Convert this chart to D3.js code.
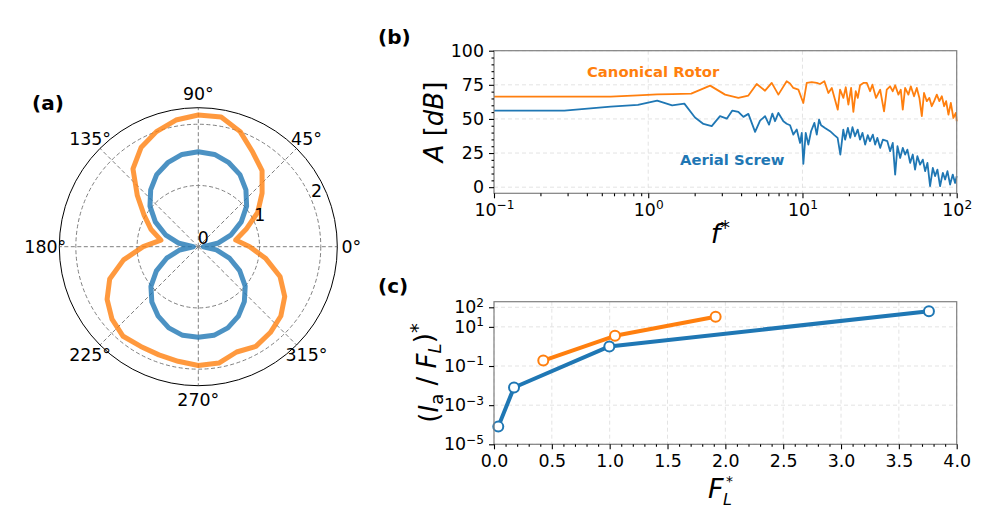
<!DOCTYPE html>
<html>
<head>
<meta charset="utf-8">
<script src="https://cdn.jsdelivr.net/npm/d3@7/dist/d3.min.js"></script>
<style>
  body { margin: 0; background: #fff; }
  text { font-family: "DejaVu Sans", sans-serif; }
</style>
</head>
<body>
<script>
// ---- data ----
// (a) directivity, one value every 10 degrees starting at 0
const patternAngles = [0, 10, 20, 30, 40, 50, 60, 70, 80, 90, 100, 110, 120, 130, 140, 150, 160, 170,
  180, 190, 200, 210, 220, 230, 240, 250, 260, 270, 280, 290, 300, 310, 320, 330, 340, 350];
const screwPattern = [0.08, 0.32, 0.57, 0.81, 1.03, 1.21, 1.36, 1.46, 1.53, 1.55, 1.53, 1.46, 1.36, 1.21, 1.03, 0.81, 0.57, 0.32,
  0.08, 0.31, 0.55, 0.79, 1.01, 1.18, 1.31, 1.41, 1.47, 1.48, 1.47, 1.41, 1.31, 1.17, 1.00, 0.78, 0.54, 0.30];
const rotorPattern = [0.84, 0.62, 0.83, 1.12, 1.36, 1.62, 1.78, 2.00, 2.15, 2.15, 2.10, 2.00, 1.87, 1.66, 1.30, 1.02, 0.82, 0.62,
  0.90, 1.24, 1.54, 1.72, 1.84, 1.91, 1.88, 1.88, 1.90, 1.94, 1.93, 1.83, 1.88, 1.83, 1.76, 1.63, 1.42, 1.12];
const angleTicks = [0, 45, 90, 135, 180, 225, 270, 315];
const radialTicks = [0, 1, 2];

// (b) spectra, [f*, A in dB]
const rotorSpectrum = [[0, 66.3], [0.286, 66.3], [0.571, 66.4], [0.857, 67.2], [1.143, 68.0], [1.43, 68.2], [1.9, 68.5],
  [2.52, 74.4], [3.15, 67.8], [3.84, 65.4], [4.46, 67.1], [5.05, 75.6], [5.72, 70.7], [6.32, 76.4], [6.98, 67.8],
  [7.9, 77.6], [8.3, 76.0], [8.73, 72.7], [9.41, 71.5], [10.13, 61.7], [10.66, 76.4], [11.49, 76.9], [12.38, 76.4],
  [13.0, 75.6], [13.87, 77.6], [14.72, 69.0], [15.49, 72.7], [16.94, 56.8], [17.53, 71.5], [18.42, 65.4], [19.09, 73.2],
  [19.85, 60.5], [20.67, 72.7], [21.38, 55.1], [22.16, 70.3], [22.84, 65.4], [23.63, 74.7], [24.83, 76.4], [26.12, 76.4],
  [27.44, 70.3], [28.4, 75.1], [30.0, 65.4], [31.9, 71.4], [33.8, 55.6], [35.2, 71.4], [37.0, 73.9], [38.5, 70.3],
  [39.9, 74.7], [41.9, 67.8], [43.4, 71.4], [44.7, 56.8], [46.3, 72.7], [48.6, 67.8], [50.4, 73.9], [52.9, 66.6],
  [55.1, 72.7], [57.3, 65.4], [59.4, 52.0], [61.4, 69.0], [64.0, 63.0], [66.5, 65.4], [68.9, 59.3], [71.4, 63.0],
  [74.3, 67.8], [77.2, 63.0], [80.1, 66.6], [82.9, 59.3], [85.4, 63.0], [88.4, 53.1], [91.6, 61.7], [95.2, 50.7],
  [98.7, 54.4], [100, 48.3]];
const screwSpectrum = [[0, 56.1], [0.286, 56.1], [0.571, 59.0], [0.857, 60.3], [1.143, 63.4], [1.429, 60.0], [1.714, 61.2],
  [2.01, 51.0], [2.28, 46.3], [2.58, 44.7], [2.92, 52.0], [3.23, 50.2], [3.51, 56.1], [3.84, 55.1], [4.14, 51.5],
  [4.46, 53.7], [4.93, 40.5], [5.31, 48.8], [5.72, 52.0], [6.07, 45.8], [6.38, 53.9], [6.64, 48.3], [6.98, 54.4],
  [7.52, 48.3], [7.9, 46.5], [8.31, 45.4], [8.73, 38.5], [9.18, 42.2], [9.65, 32.4], [9.9, 39.8], [10.13, 17.1],
  [10.5, 39.8], [10.92, 31.2], [11.37, 41.0], [11.95, 47.1], [12.38, 38.5], [12.81, 49.5], [13.2, 45.4], [14.0, 43.4],
  [15.1, 41.0], [16.1, 38.1], [16.9, 36.1], [17.6, 23.9], [18.4, 42.2], [18.9, 34.8], [19.7, 43.4], [20.4, 36.1],
  [21.1, 43.9], [21.9, 37.3], [22.8, 42.2], [23.6, 34.8], [24.5, 39.8], [25.5, 31.2], [26.5, 38.1], [27.4, 33.7],
  [28.6, 38.5], [29.6, 31.2], [30.6, 36.1], [31.9, 28.8], [33.2, 34.8], [35.5, 33.7], [37.0, 26.4], [38.5, 32.4],
  [39.9, 9.2], [41.3, 30.0], [43.0, 21.4], [44.7, 28.8], [46.3, 23.9], [47.9, 27.5], [49.9, 17.8], [51.9, 23.9],
  [53.7, 12.9], [55.6, 22.7], [57.9, 16.5], [60.3, 20.2], [62.4, 11.7], [64.6, 17.8], [67.2, 0.7], [70.0, 14.1],
  [72.4, 8.1], [75.0, 12.9], [78.0, 0.7], [81.3, 10.5], [84.1, 5.6], [87.1, 11.7], [90.6, 1.9], [94.3, 9.2],
  [97.6, 3.1], [100, 8.1]];
const ampTicks = [0, 25, 50, 75, 100];
const freqTicks = [0.1, 1, 10, 100];

// (c) impulse ratio vs lift
const screwLift = [0.037, 0.173, 0.997, 3.76];
const screwRatio = [8e-5, 8e-3, 1.0, 63];
const rotorLift = [0.426, 1.046, 1.916];
const rotorRatio = [0.19, 3.5, 33];
const liftTicks = [0, 0.5, 1, 1.5, 2, 2.5, 3, 3.5, 4];
const ratioExps = [-5, -3, -1, 1, 2];

const blue = "#1f77b4", orange = "#ff7f0e";
const fs = 17.4;

const svg = d3.select("body").append("svg").attr("width", 997).attr("height", 532);

// helper for 10^n labels
const pow10 = (sel, n) => {
  sel.text(null);
  sel.append("tspan").text("10");
  sel.append("tspan").attr("dy", "-0.55em").attr("font-size", "0.7em").text(String(n).replace("-", "\u2212"));
};

// ================= (a) polar =================
const cx = 198.3, cy = 246.7, R = 139;
const rScale = d3.scaleLinear().domain([0, 2.27]).range([0, R]);
const pa = svg.append("g").attr("transform", `translate(${cx},${cy})`);
const rad = d => d * Math.PI / 180;

pa.selectAll(".rgrid").data(radialTicks.filter(d => d > 0)).enter().append("circle")
  .attr("r", d => rScale(d)).attr("fill", "none")
  .attr("stroke", "#7f7f7f").attr("stroke-width", 1).attr("stroke-dasharray", "4,2.5");
pa.selectAll(".agrid").data(angleTicks).enter().append("line")
  .attr("x1", 0).attr("y1", 0)
  .attr("x2", d => R * Math.cos(rad(d))).attr("y2", d => -R * Math.sin(rad(d)))
  .attr("stroke", "#7f7f7f").attr("stroke-width", 1).attr("stroke-dasharray", "4,2.5");

const radial = d3.lineRadial()
  .angle(d => rad(90 - d[0]))
  .radius(d => rScale(d[1]))
  .curve(d3.curveLinearClosed);
[[screwPattern, blue], [rotorPattern, orange]].forEach(([vals, col]) => {
  pa.append("path").datum(patternAngles.map((a, i) => [a, vals[i]]))
    .attr("d", radial).attr("fill", "none").attr("stroke", col)
    .attr("stroke-width", 5).attr("stroke-opacity", 0.8).attr("stroke-linejoin", "round");
});

pa.append("circle").attr("r", R).attr("fill", "none").attr("stroke", "#000").attr("stroke-width", 1);

pa.selectAll(".alab").data(angleTicks).enter().append("text")
  .attr("x", d => 153 * Math.cos(rad(d)))
  .attr("y", d => -153 * Math.sin(rad(d)) + fs * 0.36)
  .attr("text-anchor", "middle").attr("font-size", fs)
  .text(d => d + "\u00b0");
pa.selectAll(".rlab").data(radialTicks).enter().append("text")
  .attr("x", d => rScale(d) * Math.cos(rad(22.5)) + 5)
  .attr("y", d => -rScale(d) * Math.sin(rad(22.5)) - 9 + fs * 0.36)
  .attr("text-anchor", "middle").attr("font-size", fs)
  .text(d => d);

svg.append("text").attr("x", 32).attr("y", 110).attr("font-size", 20).attr("font-weight", "bold").text("(a)");

// ================= common axes frame =================
const L = 494, Rt = 956.7;
function frame(g, top, bottom) {
  g.append("rect").attr("x", L).attr("y", top).attr("width", Rt - L).attr("height", bottom - top)
    .attr("fill", "none").attr("stroke", "#808080").attr("stroke-width", 1.2);
}
function styleAxis(g) {
  g.select(".domain").remove();
  g.selectAll("line").attr("stroke", "#000").attr("stroke-width", 1.1);
  g.selectAll("text").attr("font-size", fs).attr("fill", "#000").attr("font-family", "DejaVu Sans");
}

// ================= (b) spectrum =================
const bTop = 50.7, bBot = 193.3;
const xb = d3.scaleLog().domain([0.1, 100]).range([L, Rt]);
const yb = d3.scaleLinear().domain([-4.5, 100]).range([bBot, bTop]);
const gb = svg.append("g");

// grid
gb.selectAll(".vg").data(freqTicks).enter().append("line")
  .attr("x1", d => xb(d)).attr("x2", d => xb(d)).attr("y1", bTop).attr("y2", bBot)
  .attr("stroke", "#dcdcdc").attr("stroke-width", 0.8).attr("stroke-dasharray", "4,3");
gb.selectAll(".hg").data(ampTicks).enter().append("line")
  .attr("x1", L).attr("x2", Rt).attr("y1", d => yb(d)).attr("y2", d => yb(d))
  .attr("stroke", "#dcdcdc").attr("stroke-width", 0.8).attr("stroke-dasharray", "4,3");

const specLine = d3.line()
  .x(d => xb(Math.max(d[0], 0.1)))
  .y(d => yb(d[1]));
gb.append("path").datum(rotorSpectrum).attr("d", specLine)
  .attr("fill", "none").attr("stroke", orange).attr("stroke-width", 1.8).attr("stroke-linejoin", "round");
gb.append("path").datum(screwSpectrum).attr("d", specLine)
  .attr("fill", "none").attr("stroke", blue).attr("stroke-width", 1.8).attr("stroke-linejoin", "round");

frame(gb, bTop, bBot);

const bMinorX = [];
[0.1, 1, 10].forEach(dec => { for (let k = 2; k <= 9; k++) bMinorX.push(dec * k); });
const bMinorY = d3.range(-0, 101, 5).filter(v => v % 25 !== 0);

const gbx = gb.append("g").attr("transform", `translate(0,${bBot})`)
  .call(d3.axisBottom(xb).tickValues(freqTicks).tickSize(5).tickPadding(5));
styleAxis(gbx);
gbx.selectAll("text").each(function(d) { pow10(d3.select(this), Math.round(Math.log10(d))); });
const gbxm = gb.append("g").attr("transform", `translate(0,${bBot})`)
  .call(d3.axisBottom(xb).tickValues(bMinorX).tickSize(3).tickFormat(""));
styleAxis(gbxm);

const gby = gb.append("g").attr("transform", `translate(${L},0)`)
  .call(d3.axisLeft(yb).tickValues(ampTicks).tickSize(5).tickPadding(5));
styleAxis(gby);
const gbym = gb.append("g").attr("transform", `translate(${L},0)`)
  .call(d3.axisLeft(yb).tickValues(bMinorY).tickSize(2.5).tickFormat(""));
styleAxis(gbym);

gb.append("text").attr("x", 587).attr("y", 77).attr("font-size", 14.8).attr("font-weight", "bold")
  .attr("fill", orange).text("Canonical Rotor");
gb.append("text").attr("x", 680).attr("y", 165).attr("font-size", 14.8).attr("font-weight", "bold")
  .attr("fill", blue).text("Aerial Screw");

// axis labels
const ybl = gb.append("text").attr("transform", `translate(443,${(bTop + bBot) / 2}) rotate(-90)`)
  .attr("text-anchor", "middle").attr("font-size", 26);
ybl.append("tspan").attr("font-style", "italic").text("A");
ybl.append("tspan").text(" [");
ybl.append("tspan").attr("font-style", "italic").text("dB");
ybl.append("tspan").text("]");

const xbl = gb.append("text").attr("x", (L + Rt) / 2 - 5).attr("y", 243).attr("text-anchor", "middle").attr("font-size", 27);
xbl.append("tspan").attr("font-style", "italic").text("f");
xbl.append("tspan").attr("dy", "-0.45em").attr("font-size", "0.7em").text("*");

svg.append("text").attr("x", 378).attr("y", 44).attr("font-size", 20).attr("font-weight", "bold").text("(b)");

// ================= (c) impulse ratio =================
const cTop = 301.7, cBot = 444.3;
const xc = d3.scaleLinear().domain([0, 4]).range([L, Rt]);
const yc = d3.scaleLog().domain([1e-5, Math.pow(10, 2.286)]).range([cBot, cTop]);
const gc = svg.append("g");

gc.selectAll(".vg").data(liftTicks).enter().append("line")
  .attr("x1", d => xc(d)).attr("x2", d => xc(d)).attr("y1", cTop).attr("y2", cBot)
  .attr("stroke", "#dcdcdc").attr("stroke-width", 0.8).attr("stroke-dasharray", "4,3");
gc.selectAll(".hg").data(ratioExps).enter().append("line")
  .attr("x1", L).attr("x2", Rt).attr("y1", d => yc(Math.pow(10, d))).attr("y2", d => yc(Math.pow(10, d)))
  .attr("stroke", "#dcdcdc").attr("stroke-width", 0.8).attr("stroke-dasharray", "4,3");

const pts = (xs, ys) => xs.map((x, i) => [x, ys[i]]);
const ratioLine = d3.line().x(d => xc(d[0])).y(d => yc(d[1]));
[[pts(screwLift, screwRatio), blue], [pts(rotorLift, rotorRatio), orange]].forEach(([data, col]) => {
  gc.append("path").datum(data).attr("d", ratioLine)
    .attr("fill", "none").attr("stroke", col).attr("stroke-width", 4).attr("stroke-linejoin", "round");
  gc.selectAll(null).data(data).enter().append("circle")
    .attr("cx", d => xc(d[0])).attr("cy", d => yc(d[1])).attr("r", 5)
    .attr("fill", "#fff").attr("stroke", col).attr("stroke-width", 2);
});

frame(gc, cTop, cBot);

const gcx = gc.append("g").attr("transform", `translate(0,${cBot})`)
  .call(d3.axisBottom(xc).tickValues(liftTicks).tickSize(5).tickPadding(5).tickFormat(d3.format(".1f")));
styleAxis(gcx);
const gcxm = gc.append("g").attr("transform", `translate(0,${cBot})`)
  .call(d3.axisBottom(xc).tickValues(d3.range(0, 40, 1).filter(k => k % 5 !== 0).map(k => k / 10)).tickSize(2.5).tickFormat(""));
styleAxis(gcxm);

const gcy = gc.append("g").attr("transform", `translate(${L},0)`)
  .call(d3.axisLeft(yc).tickValues(ratioExps.map(e => Math.pow(10, e))).tickSize(5).tickPadding(5));
styleAxis(gcy);
gcy.selectAll("text").each(function(d) { pow10(d3.select(this), Math.round(Math.log10(d))); });

const ycl = gc.append("text").attr("transform", `translate(438,${(cTop + cBot) / 2}) rotate(-90)`)
  .attr("text-anchor", "middle").attr("font-size", 26);
ycl.append("tspan").text("(");
ycl.append("tspan").attr("font-style", "italic").text("I");
ycl.append("tspan").attr("dy", "0.3em").attr("font-size", "0.7em").text("a");
ycl.append("tspan").attr("dy", "-0.3em").text(" / ");
ycl.append("tspan").attr("font-style", "italic").text("F");
ycl.append("tspan").attr("dy", "0.3em").attr("font-size", "0.7em").attr("font-style", "italic").text("L");
ycl.append("tspan").attr("dy", "-0.3em").text(")");
ycl.append("tspan").attr("dy", "-0.5em").attr("font-size", "0.75em").text("*");

// F_L^* with sub- and superscript stacked
gc.append("text").attr("x", 708).attr("y", 498).attr("font-size", 27).attr("font-style", "italic").text("F");
gc.append("text").attr("x", 726).attr("y", 486).attr("font-size", 14).text("*");
gc.append("text").attr("x", 723).attr("y", 505).attr("font-size", 16).attr("font-style", "italic").text("L");

svg.append("text").attr("x", 378).attr("y", 293).attr("font-size", 20).attr("font-weight", "bold").text("(c)");
</script>
</body>
</html>
